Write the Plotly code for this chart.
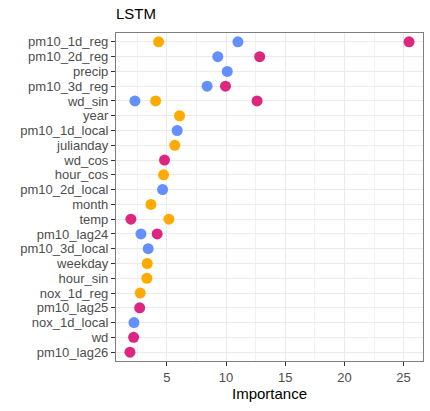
import plotly.graph_objects as go

# Features, top to bottom
features = [
    "pm10_1d_reg", "pm10_2d_reg", "precip", "pm10_3d_reg", "wd_sin", "year",
    "pm10_1d_local", "julianday", "wd_cos", "hour_cos", "pm10_2d_local", "month",
    "temp", "pm10_lag24", "pm10_3d_local", "weekday", "hour_sin", "nox_1d_reg",
    "pm10_lag25", "nox_1d_local", "wd", "pm10_lag26",
]

# Importance per group (feature, value)
blue_features = ["pm10_1d_reg", "pm10_2d_reg", "precip", "pm10_3d_reg", "wd_sin",
                 "pm10_1d_local", "pm10_2d_local", "pm10_lag24", "pm10_3d_local",
                 "nox_1d_local"]
blue_values = [11.0, 9.3, 10.1, 8.4, 2.3, 5.87, 4.64, 2.81, 3.42, 2.22]

pink_features = ["pm10_1d_reg", "pm10_2d_reg", "pm10_3d_reg", "wd_sin", "wd_cos",
                 "temp", "pm10_lag24", "pm10_lag25", "wd", "pm10_lag26"]
pink_values = [25.46, 12.84, 9.95, 12.62, 4.8, 1.96, 4.18, 2.7, 2.19, 1.88]

orange_features = ["pm10_1d_reg", "wd_sin", "year", "julianday", "hour_cos", "month",
                   "temp", "weekday", "hour_sin", "nox_1d_reg"]
orange_values = [4.3, 4.05, 6.07, 5.67, 4.72, 3.65, 5.17, 3.34, 3.31, 2.75]

groups = [
    ("Group A", blue_features, blue_values, "#648FFF"),
    ("Group B", pink_features, pink_values, "#DC267F"),
    ("Group C", orange_features, orange_values, "#FFAA00"),
]

fig = go.Figure()
for name, feats, vals, color in groups:
    fig.add_trace(go.Scatter(
        x=vals, y=feats, mode="markers", name=name,
        marker=dict(size=11, color=color, line=dict(width=0)),
        showlegend=False,
    ))

all_vals = blue_values + pink_values + orange_values
lo, hi = min(all_vals), max(all_vals)
pad = 0.05 * (hi - lo)
n = len(features)

FONT = "Liberation Sans, Arial, sans-serif"
axis_font = dict(family=FONT, size=13, color="#4D4D4D")

fig.update_layout(
    width=430, height=411,
    margin=dict(l=116, r=7, t=33, b=50),
    paper_bgcolor="white", plot_bgcolor="white",
    title=dict(text="LSTM", x=0, xref="paper", xanchor="left",
               y=1 - 14 / 411, yref="container", yanchor="middle",
               font=dict(family=FONT, size=15, color="black")),
    xaxis=dict(
        range=[lo - pad, hi + pad],
        tickvals=[5, 10, 15, 20, 25],
        ticks="outside", ticklen=4, tickcolor="#333333", tickwidth=1.1,
        tickfont=axis_font,
        showgrid=True, gridcolor="#EBEBEB", gridwidth=1.1,
        minor=dict(tickvals=[2.5, 7.5, 12.5, 17.5, 22.5], showgrid=True,
                   gridcolor="#F2F2F2", gridwidth=0.6),
        showline=True, linecolor="#7F7F7F", linewidth=1.1, mirror=True,
        zeroline=False,
        title=dict(text="Importance", standoff=4,
                   font=dict(family=FONT, size=15, color="black")),
    ),
    yaxis=dict(
        type="category", categoryorder="array", categoryarray=features,
        tickmode="array", tickvals=features, ticktext=features,
        range=[n - 1 + 0.6, -0.6],
        ticks="outside", ticklen=4, tickcolor="#333333", tickwidth=1.1,
        tickfont=axis_font,
        showgrid=True, gridcolor="#EBEBEB", gridwidth=1.1,
        showline=True, linecolor="#7F7F7F", linewidth=1.1, mirror=True,
        zeroline=False,
    ),
)

fig.write_html("out.html")
